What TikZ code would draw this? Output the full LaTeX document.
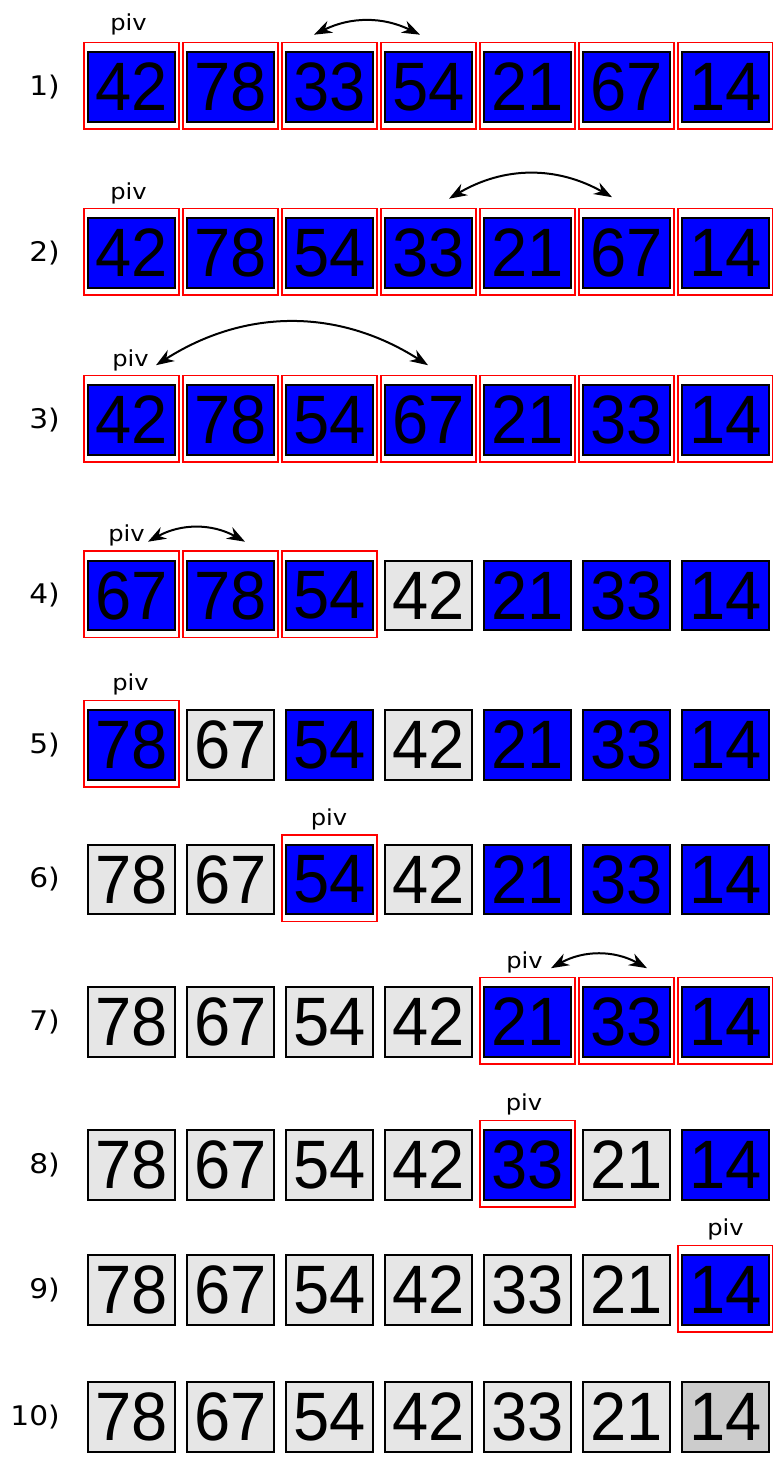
\documentclass[tikz,border=0pt]{standalone}
\usepackage{fontspec}
\usepackage{graphicx}
\usetikzlibrary{arrows.meta,calc}
\newfontfamily\digitfont{Liberation Sans}
\newfontfamily\labfont{DejaVu Sans}
\definecolor{cblue}{HTML}{0000FF}
\definecolor{cgray}{HTML}{E6E6E6}
\definecolor{cdark}{HTML}{CCCCCC}
\definecolor{cred}{HTML}{FF0000}
\tikzset{
  cellbox/.style={draw=black, line width=1.8pt, minimum width=87.5pt, minimum height=69.5pt, inner sep=0pt, font=\digitfont\fontsize{68.5}{68.5}\selectfont},
  bluecell/.style={cellbox, fill=cblue},
  graycell/.style={cellbox, fill=cgray},
  darkcell/.style={cellbox, fill=cdark},
  redframe/.style={draw=cred, line width=1.7pt, minimum width=95pt, minimum height=86.5pt, inner sep=0pt},
  pivlabel/.style={inner sep=0pt, font=\labfont\fontsize{22}{22}\selectfont},
  rowlabel/.style={inner sep=0pt, anchor=east, font=\labfont\fontsize{27}{27}\selectfont},
  swaparrow/.style={{Stealth[length=18pt,width=13pt]}-{Stealth[length=18pt,width=13pt]}, line width=2pt},
}
\newcommand\cellnode[5]{\node[#5] (b#1-#2) at ({131.5+99*#2}, -#3) {\scalebox{0.95}[1]{#4}};}
\newcommand\framenode[3]{\node[redframe] (f#1-#2) at ({131.5+99*#2}, {1.2-#3}) {};}
\newcommand\piv[1]{\scalebox{1.1}[1]{#1}}
\begin{document}
\begin{tikzpicture}[x=1pt,y=1pt]
\useasboundingbox[fill=white] (0,0) rectangle (773,-1461);
% row labels
\foreach \r/\yy in {1/87,2/253,3/420,4/595.5,5/745,6/879.5,7/1022,8/1165,9/1290,10/1417}
  {\node[rowlabel] (l\r) at (60,-\yy) {\piv{\r)}};}
% row 1
\foreach \v [count=\c from 0] in {42,78,33,54,21,67,14}
  {\framenode{1}{\c}{87}\cellnode{1}{\c}{87}{\v}{bluecell}}
% row 2
\foreach \v [count=\c from 0] in {42,78,54,33,21,67,14}
  {\framenode{2}{\c}{253}\cellnode{2}{\c}{253}{\v}{bluecell}}
% row 3
\foreach \v [count=\c from 0] in {42,78,54,67,21,33,14}
  {\framenode{3}{\c}{420}\cellnode{3}{\c}{420}{\v}{bluecell}}
% row 4
\foreach \v/\s/\f [count=\c from 0] in {67/bluecell/1,78/bluecell/1,54/bluecell/1,42/graycell/0,21/bluecell/0,33/bluecell/0,14/bluecell/0}
  {\ifnum\f=1 \framenode{4}{\c}{595.5}\fi\cellnode{4}{\c}{595.5}{\v}{\s}}
% row 5
\foreach \v/\s/\f [count=\c from 0] in {78/bluecell/1,67/graycell/0,54/bluecell/0,42/graycell/0,21/bluecell/0,33/bluecell/0,14/bluecell/0}
  {\ifnum\f=1 \framenode{5}{\c}{745}\fi\cellnode{5}{\c}{745}{\v}{\s}}
% row 6
\foreach \v/\s/\f [count=\c from 0] in {78/graycell/0,67/graycell/0,54/bluecell/1,42/graycell/0,21/bluecell/0,33/bluecell/0,14/bluecell/0}
  {\ifnum\f=1 \framenode{6}{\c}{879.5}\fi\cellnode{6}{\c}{879.5}{\v}{\s}}
% row 7
\foreach \v/\s/\f [count=\c from 0] in {78/graycell/0,67/graycell/0,54/graycell/0,42/graycell/0,21/bluecell/1,33/bluecell/1,14/bluecell/1}
  {\ifnum\f=1 \framenode{7}{\c}{1022}\fi\cellnode{7}{\c}{1022}{\v}{\s}}
% row 8
\foreach \v/\s/\f [count=\c from 0] in {78/graycell/0,67/graycell/0,54/graycell/0,42/graycell/0,33/bluecell/1,21/graycell/0,14/bluecell/0}
  {\ifnum\f=1 \framenode{8}{\c}{1165}\fi\cellnode{8}{\c}{1165}{\v}{\s}}
% row 9
\foreach \v/\s/\f [count=\c from 0] in {78/graycell/0,67/graycell/0,54/graycell/0,42/graycell/0,33/graycell/0,21/graycell/0,14/bluecell/1}
  {\ifnum\f=1 \framenode{9}{\c}{1290}\fi\cellnode{9}{\c}{1290}{\v}{\s}}
% row 10
\foreach \v/\s [count=\c from 0] in {78/graycell,67/graycell,54/graycell,42/graycell,33/graycell,21/graycell,14/darkcell}
  {\cellnode{10}{\c}{1417}{\v}{\s}}
% pivot labels
\node[pivlabel] (p1) at ([shift={(-3,17)}]f1-0.north) {\piv{piv}};
\node[pivlabel] (p2) at ([shift={(-3,14)}]f2-0.north) {\piv{piv}};
\node[pivlabel] (p3) at ([shift={(-1,14.5)}]f3-0.north) {\piv{piv}};
\node[pivlabel] (p4) at ([shift={(-5,14.5)}]f4-0.north) {\piv{piv}};
\node[pivlabel] (p5) at ([shift={(-1,15)}]f5-0.north) {\piv{piv}};
\node[pivlabel] (p6) at ([shift={(-0.5,15)}]f6-2.north) {\piv{piv}};
\node[pivlabel] (p7) at ([shift={(-3,14)}]f7-4.north) {\piv{piv}};
\node[pivlabel] (p8) at ([shift={(-3.5,15)}]f8-4.north) {\piv{piv}};
\node[pivlabel] (p9) at ([shift={(0,15.5)}]f9-6.north) {\piv{piv}};
% swap arrows
\draw[swaparrow] ([shift={(-15.5,7)}]f1-2.north) to[bend left=26] ([shift={(-8.5,7)}]f1-3.north);
\draw[swaparrow] ([shift={(20.5,9)}]f2-3.north) to[bend left=30] ([shift={(-14.5,10.5)}]f2-5.north);
\draw[swaparrow] ([shift={(24.5,9.5)}]f3-0.north) to[bend left=32.5] ([shift={(-0.5,9.5)}]f3-3.north);
\draw[swaparrow] ([shift={(16.5,8.5)}]f4-0.north) to[bend left=29] ([shift={(14.5,8.5)}]f4-1.north);
\draw[swaparrow] ([shift={(23.5,8.5)}]f7-4.north) to[bend left=29] ([shift={(20.5,8.5)}]f7-5.north);
\end{tikzpicture}
\end{document}
